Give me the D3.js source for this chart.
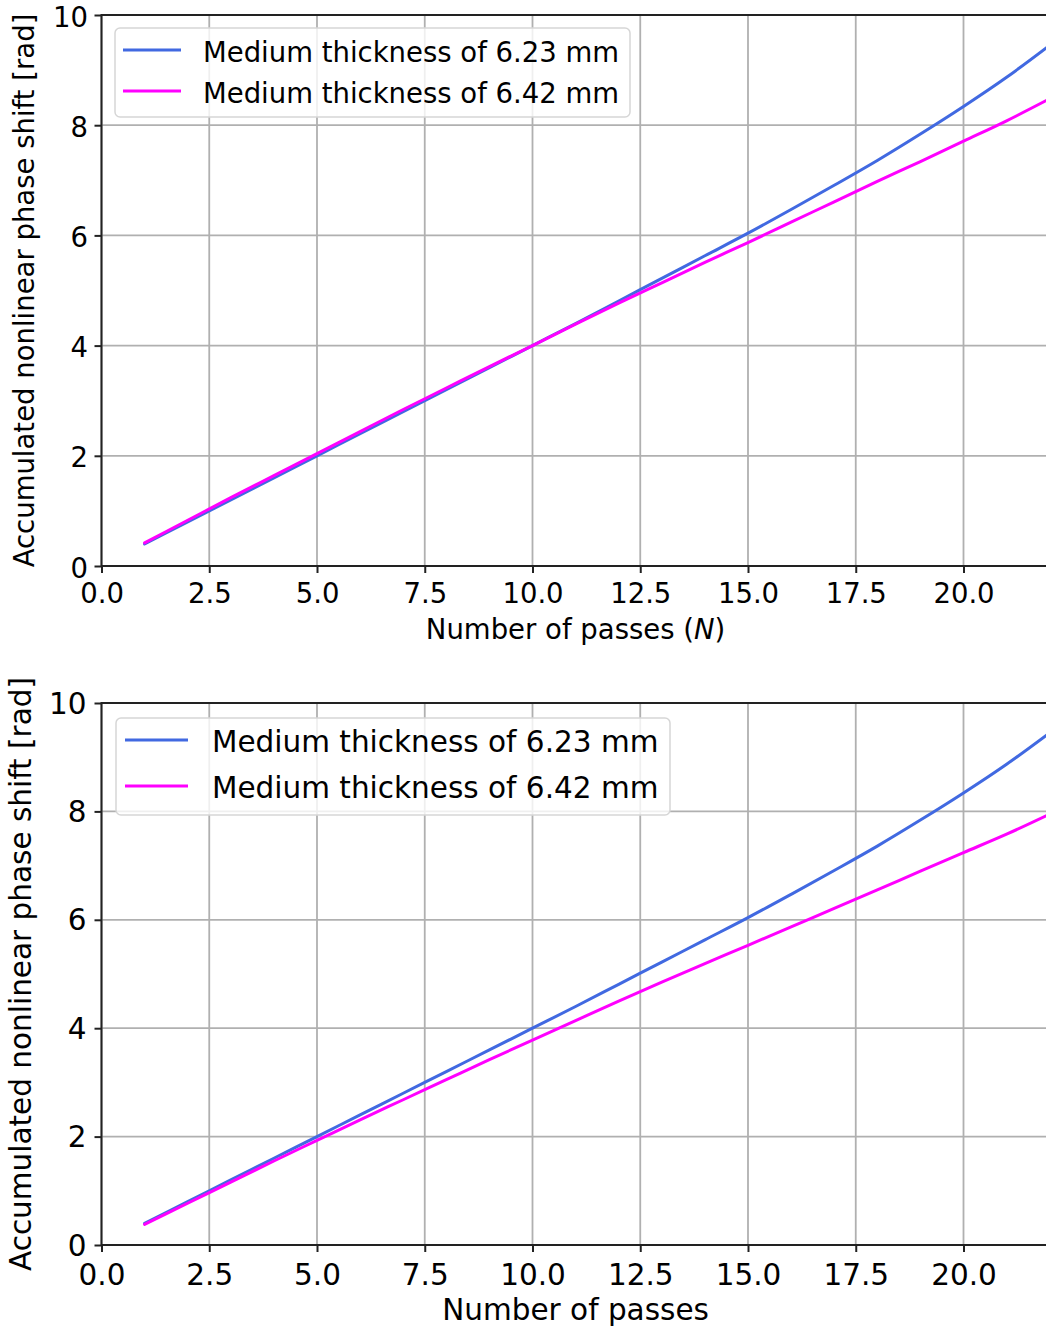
<!DOCTYPE html>
<html>
<head>
<meta charset="utf-8">
<script src="https://cdn.jsdelivr.net/npm/d3@7"></script>
<style>
	body { margin: 0; background: #fff; }
	text { font-family: "DejaVu Sans", sans-serif; fill: #000; }
</style>
</head>
<body>
<div id="chart-area"></div>
<script>

//data
var passes = [1, 2, 3, 4, 5, 6, 7, 8, 9, 10, 11, 12, 13, 14, 15, 16, 17, 18, 19, 20, 21, 22];

//medium thickness 6.23 mm (same in both panels)
var phase623 = [0.40, 0.80, 1.20, 1.60, 2.00, 2.40, 2.80, 3.20, 3.60, 4.00, 4.40,
	4.81, 5.22, 5.63, 6.04, 6.47, 6.91, 7.36, 7.84, 8.34, 8.87, 9.45];

//medium thickness 6.42 mm, top panel
var phase642Top = [0.42, 0.83, 1.24, 1.64, 2.04, 2.44, 2.84, 3.23, 3.62, 4.00, 4.39,
	4.77, 5.14, 5.51, 5.87, 6.24, 6.61, 6.98, 7.34, 7.71, 8.08, 8.48];

//medium thickness 6.42 mm, bottom panel
var phase642Bottom = [0.38, 0.77, 1.16, 1.55, 1.93, 2.31, 2.68, 3.05, 3.42, 3.78, 4.14,
	4.50, 4.85, 5.19, 5.53, 5.87, 6.21, 6.55, 6.90, 7.24, 7.58, 7.95];

var seriesNames = ["Medium thickness of 6.23 mm", "Medium thickness of 6.42 mm"];
var seriesColors = ["#4169e1", "#ff00ff"];

var xTicks = [0, 2.5, 5, 7.5, 10, 12.5, 15, 17.5, 20];
var yTicks = [0, 2, 4, 6, 8, 10];
var xDomain = [0, 22];
var yDomain = [0, 10];

var svg = d3.select("#chart-area")
	.append("svg")
		.attr("width", 1046)
		.attr("height", 1329);

function drawPanel(p) {
	var x = d3.scaleLinear().domain(xDomain).range([p.left, p.right]);
	var y = d3.scaleLinear().domain(yDomain).range([p.bottom, p.top]);

	var g = svg.append("g");

	//grid
	g.append("g").selectAll("line.vgrid")
		.data(xTicks)
		.enter().append("line")
			.attr("x1", function(d){ return x(d); })
			.attr("x2", function(d){ return x(d); })
			.attr("y1", p.top)
			.attr("y2", p.bottom)
			.attr("stroke", "#b0b0b0")
			.attr("stroke-width", 1.8);

	g.append("g").selectAll("line.hgrid")
		.data(yTicks)
		.enter().append("line")
			.attr("x1", p.left)
			.attr("x2", p.right)
			.attr("y1", function(d){ return y(d); })
			.attr("y2", function(d){ return y(d); })
			.attr("stroke", "#b0b0b0")
			.attr("stroke-width", 1.8);

	//lines
	var line = d3.line()
		.curve(d3.curveMonotoneX)
		.x(function(d){ return x(d[0]); })
		.y(function(d){ return y(d[1]); });

	p.series.forEach(function(vals, i){
		g.append("path")
			.datum(passes.map(function(n, j){ return [n, vals[j]]; }))
			.attr("fill", "none")
			.attr("stroke", seriesColors[i])
			.attr("stroke-width", 3)
			.attr("stroke-linejoin", "round")
			.attr("stroke-linecap", "round")
			.attr("d", line);
	});

	//frame
	g.append("rect")
		.attr("x", p.left)
		.attr("y", p.top)
		.attr("width", p.right - p.left)
		.attr("height", p.bottom - p.top)
		.attr("fill", "none")
		.attr("stroke", "#222")
		.attr("stroke-width", 2);

	//x axis
	var xAxisCall = d3.axisBottom(x)
		.tickValues(xTicks)
		.tickSize(7)
		.tickPadding(p.xPad)
		.tickFormat(d3.format(".1f"));

	var xAxis = g.append("g")
		.attr("transform", "translate(0, " + p.bottom + ")")
		.call(xAxisCall);

	//y axis
	var yAxisCall = d3.axisLeft(y)
		.tickValues(yTicks)
		.tickSize(7)
		.tickPadding(p.yPad)
		.tickFormat(d3.format("d"));

	var yAxis = g.append("g")
		.attr("transform", "translate(" + p.left + ", 0)")
		.call(yAxisCall);

	[xAxis, yAxis].forEach(function(a){
		a.select(".domain").remove();
		a.selectAll(".tick line").attr("stroke", "#222").attr("stroke-width", 2);
		a.selectAll(".tick text")
			.attr("font-family", "DejaVu Sans")
			.attr("font-size", p.font + "px")
			.attr("fill", "#000");
	});
	yAxis.selectAll(".tick text").attr("dy", p.yDy);

	//axis labels
	var xLabel = g.append("text")
		.attr("x", (p.left + p.right) / 2)
		.attr("y", p.xLabelY)
		.attr("text-anchor", "middle")
		.attr("font-size", p.font + "px");
	xLabel.append("tspan").text("Number of passes");
	if (p.withN) {
		xLabel.append("tspan").text(" (");
		xLabel.append("tspan").attr("font-style", "italic").text("N");
		xLabel.append("tspan").text(")");
	}

	g.append("text")
		.attr("transform", "translate(" + p.yLabelX + ", " + ((p.top + p.bottom) / 2) + ") rotate(-90)")
		.attr("text-anchor", "middle")
		.attr("font-size", p.font + "px")
		.text("Accumulated nonlinear phase shift [rad]");

	//legend
	var lg = p.legend;
	g.append("rect")
		.attr("x", lg.x)
		.attr("y", lg.y)
		.attr("width", lg.w)
		.attr("height", lg.h)
		.attr("rx", 5)
		.attr("fill", "#fff")
		.attr("fill-opacity", 0.8)
		.attr("stroke", "#d6d6d6")
		.attr("stroke-width", 1.5);

	seriesNames.forEach(function(name, i){
		var rowY = lg.rowY[i];
		g.append("line")
			.attr("x1", lg.lineX[0])
			.attr("x2", lg.lineX[1])
			.attr("y1", rowY)
			.attr("y2", rowY)
			.attr("stroke", seriesColors[i])
			.attr("stroke-width", 3);
		g.append("text")
			.attr("x", lg.textX)
			.attr("y", rowY)
			.attr("dy", lg.dy)
			.attr("font-size", p.font + "px")
			.text(name);
	});
}

//top panel
drawPanel({
	left: 101.5, right: 1049.7, top: 15, bottom: 566,
	font: 27.5, xPad: 10, yPad: 6.5, yDy: "0.4em",
	xLabelY: 639, yLabelX: 34, withN: true,
	series: [phase623, phase642Top],
	legend: { x: 115, y: 28, w: 515, h: 89, rowY: [50, 91], lineX: [123, 181], textX: 203, dy: "0.44em" }
});

//bottom panel
drawPanel({
	left: 101.5, right: 1049.7, top: 703, bottom: 1245,
	font: 29.5, xPad: 12, yPad: 8, yDy: "0.34em",
	xLabelY: 1320, yLabelX: 31, withN: false,
	series: [phase623, phase642Bottom],
	legend: { x: 116, y: 718, w: 554, h: 97, rowY: [740, 786], lineX: [125, 188], textX: 212, dy: "0.42em" }
});

</script>
</body>
</html>
